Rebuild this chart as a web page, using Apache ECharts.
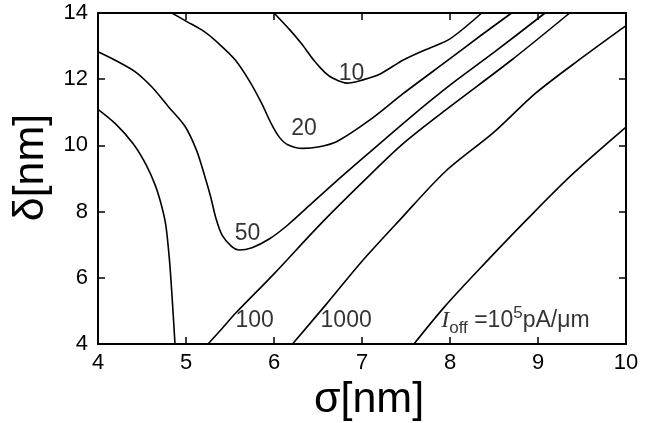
<!DOCTYPE html>
<html>
<head>
<meta charset="utf-8">
<script src="https://cdn.jsdelivr.net/npm/echarts@6/dist/echarts.min.js"></script>
<style>
  html, body { margin: 0; padding: 0; background: #fff; }
  #chart { width: 658px; height: 423px; }
</style>
</head>
<body>
<div id="chart"></div>
<script>
// Off-current contour lines Ioff(σ, δ), each branch as [σ (nm), δ (nm)] pairs
const contour10 = [
  [6.00, 14.00], [6.18, 13.49], [6.32, 13.05], [6.45, 12.58], [6.58, 12.20],
  [6.67, 12.03], [6.83, 11.88], [7.01, 11.98], [7.20, 12.15], [7.47, 12.58],
  [7.73, 12.90], [8.00, 13.22], [8.36, 14.00]
];
const contour20 = [
  [4.84, 14.00], [5.01, 13.74], [5.20, 13.45], [5.37, 13.08], [5.56, 12.58],
  [5.72, 11.95], [5.86, 11.27], [5.97, 10.65], [6.06, 10.25], [6.15, 10.03],
  [6.33, 9.91], [6.50, 9.95], [6.71, 10.11], [7.09, 10.77], [7.47, 11.57],
  [8.00, 12.62], [8.35, 13.32], [8.70, 14.00]
];
const contour50 = [
  [4.00, 12.83], [4.19, 12.58], [4.42, 12.23], [4.61, 11.77], [4.80, 11.17],
  [4.99, 10.57], [5.12, 9.85], [5.21, 9.10], [5.28, 8.45], [5.34, 7.80],
  [5.41, 7.29], [5.52, 6.94], [5.60, 6.84], [5.75, 6.91], [5.95, 7.18],
  [6.15, 7.58], [6.40, 8.18], [6.70, 8.90], [7.09, 9.80], [7.55, 10.85],
  [8.00, 11.82], [8.51, 12.83], [9.08, 14.00]
];
const contour100Left = [
  [4.00, 11.09], [4.20, 10.65], [4.40, 10.05], [4.55, 9.40], [4.65, 8.80],
  [4.72, 8.20], [4.77, 7.60], [4.81, 6.60], [4.84, 5.50], [4.875, 4.00]
];
const contour100Right = [
  [5.25, 4.00], [5.41, 4.47], [5.56, 4.92], [6.00, 6.12], [6.52, 7.60],
  [7.03, 8.95], [7.47, 10.06], [8.00, 11.17], [8.70, 12.58], [9.36, 14.00]
];
const contour1000 = [
  [6.21, 4.00], [6.60, 5.22], [7.00, 6.50], [7.43, 7.75], [7.95, 9.22],
  [8.50, 10.40], [8.97, 11.57], [9.50, 12.65], [10.00, 13.62]
];
const contour1e5 = [
  [7.59, 4.00], [7.94, 5.13], [8.40, 6.45], [8.87, 7.75], [9.38, 9.10],
  [10.00, 10.55]
];

// Level annotations: [σ, δ, text]
const levelLabels = [
  [6.88, 12.18, '10'],
  [6.34, 10.50, '20'],
  [5.70, 7.34, '50'],
  [5.78, 4.70, '100'],
  [6.82, 4.70, '1000']
];
const ioffLabel = [7.90, 4.70];

// Axis ranges and ticks
const sigmaMin = 4, sigmaMax = 10, sigmaStep = 1;
const deltaMin = 4, deltaMax = 14, deltaStep = 2;

const FONT = '"Liberation Sans", Arial, Helvetica, sans-serif';
const lineStyle = { color: '#000', width: 1.6 };

function contourSeries(name, data) {
  return {
    name: name,
    type: 'line',
    data: data,
    xAxisIndex: 0,
    yAxisIndex: 0,
    showSymbol: false,
    symbol: 'none',
    smooth: 0.3,
    lineStyle: lineStyle,
    silent: true,
    z: 3
  };
}

const axisCommon = {
  type: 'value',
  axisLine: { show: true, onZero: false, lineStyle: { color: '#000', width: 2 } },
  axisTick: { show: true, inside: true, length: 7, lineStyle: { color: '#000', width: 1.5 } },
  splitLine: { show: false }
};

const chart = echarts.init(document.getElementById('chart'), null, { renderer: 'canvas' });

chart.setOption({
  backgroundColor: '#fff',
  animation: false,
  grid: { left: 98, right: 32, top: 13, bottom: 79, containLabel: false, outerBoundsMode: 'none' },
  xAxis: [
    Object.assign({}, axisCommon, {
      position: 'bottom',
      min: sigmaMin, max: sigmaMax, interval: sigmaStep,
      axisLabel: { color: '#000', fontSize: 22, fontFamily: FONT, margin: 8 },
      name: 'σ[nm]',
      nameLocation: 'middle',
      nameGap: 35,
      nameTextStyle: { color: '#000', fontSize: 43, fontFamily: FONT, padding: [0, 0, 0, 14] }
    }),
    Object.assign({}, axisCommon, {
      position: 'top',
      min: sigmaMin, max: sigmaMax, interval: sigmaStep,
      axisLabel: { show: false }
    })
  ],
  yAxis: [
    Object.assign({}, axisCommon, {
      position: 'left',
      min: deltaMin, max: deltaMax, interval: deltaStep,
      axisLabel: { color: '#000', fontSize: 22, fontFamily: FONT, margin: 10 },
      name: 'δ[nm]',
      nameLocation: 'middle',
      nameGap: 38,
      nameTextStyle: { color: '#000', fontSize: 43, fontFamily: FONT, padding: [0, 0, 0, 22] }
    }),
    Object.assign({}, axisCommon, {
      position: 'right',
      min: deltaMin, max: deltaMax, interval: deltaStep,
      axisLabel: { show: false }
    })
  ],
  series: [
    contourSeries('10', contour10),
    contourSeries('20', contour20),
    contourSeries('50', contour50),
    contourSeries('100', contour100Left),
    contourSeries('100', contour100Right),
    contourSeries('1000', contour1000),
    contourSeries('1e5', contour1e5),
    {
      type: 'scatter',
      symbolSize: 0,
      silent: true,
      data: levelLabels.map(function (d) { return { value: [d[0], d[1]], text: d[2] }; }),
      label: {
        show: true,
        position: 'inside',
        color: '#000',
        fontSize: 23,
        fontFamily: FONT,
        formatter: function (p) { return p.data.text; }
      },
      z: 5
    },
    {
      type: 'scatter',
      symbolSize: 0,
      silent: true,
      data: [ioffLabel],
      label: {
        show: true,
        position: 'right',
        distance: 0,
        formatter: '{i|I}{sub|off}{t| =10}{sup|5}{t|pA/μm}',
        rich: {
          i: { fontFamily: '"Liberation Serif", "Times New Roman", serif', fontStyle: 'italic', fontSize: 24, color: '#000', lineHeight: 32, verticalAlign: 'middle' },
          sub: { fontFamily: FONT, fontSize: 17, color: '#000', lineHeight: 17, verticalAlign: 'bottom' },
          t: { fontFamily: FONT, fontSize: 23, color: '#000', lineHeight: 32, verticalAlign: 'middle' },
          sup: { fontFamily: FONT, fontSize: 17, color: '#000', lineHeight: 17, verticalAlign: 'top' }
        }
      },
      z: 5
    }
  ]
});
</script>
</body>
</html>
